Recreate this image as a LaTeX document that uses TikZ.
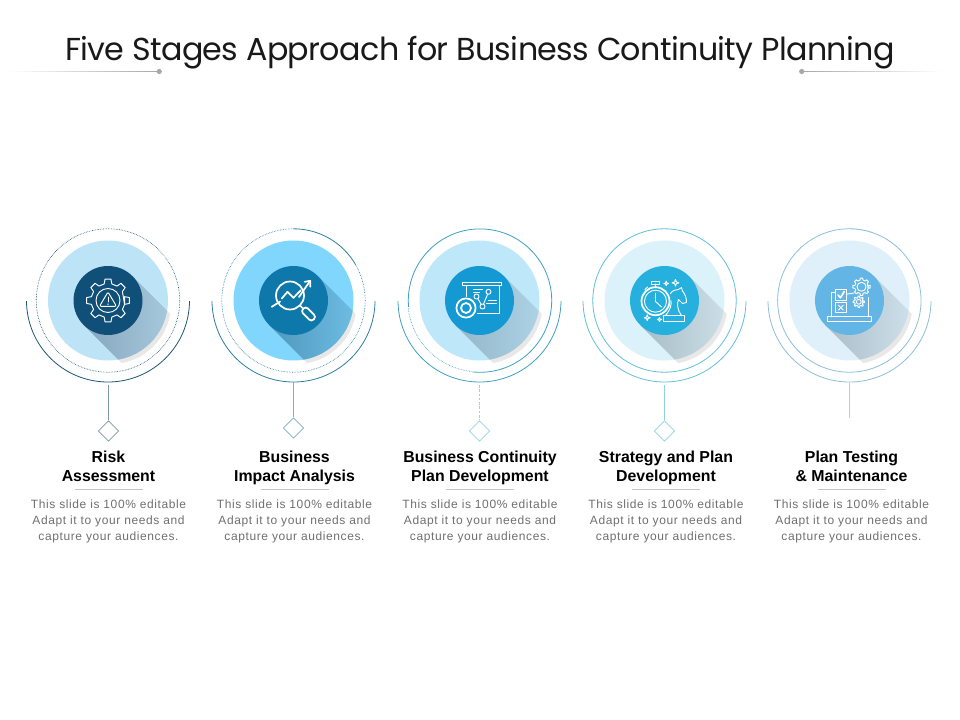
\documentclass[tikz,border=0pt]{standalone}
\usepackage{fontspec}
\setmainfont{Liberation Sans}
\newfontfamily\titlef{Poppins}[LetterSpace=-2]
\newfontfamily\bodyf{Liberation Sans}[LetterSpace=5]
\usetikzlibrary{shapes.geometric}
\definecolor{c1disc}{HTML}{BDE3F7}\definecolor{c1in}{HTML}{0F4F78}\definecolor{c1a}{HTML}{86A6BD}\definecolor{c1b}{HTML}{A9CBDF}\definecolor{c1arc}{HTML}{1D5675}\definecolor{c1ln}{HTML}{7F98A6}
\definecolor{c2disc}{HTML}{80D6FC}\definecolor{c2in}{HTML}{0E78AA}\definecolor{c2a}{HTML}{4F96BC}\definecolor{c2b}{HTML}{70C0E6}\definecolor{c2arc}{HTML}{2A7FA3}\definecolor{c2ln}{HTML}{7FAEC6}
\definecolor{c3disc}{HTML}{BFE7FA}\definecolor{c3in}{HTML}{1499D3}\definecolor{c3a}{HTML}{94B6C8}\definecolor{c3b}{HTML}{AFD5E8}\definecolor{c3arc}{HTML}{3EA0C4}\definecolor{c3ln}{HTML}{9AD3E0}
\definecolor{c4disc}{HTML}{DCF2FA}\definecolor{c4in}{HTML}{25B0DE}\definecolor{c4a}{HTML}{A8BCC6}\definecolor{c4b}{HTML}{CFE2EA}\definecolor{c4arc}{HTML}{62C0D8}\definecolor{c4ln}{HTML}{8FD2DF}
\definecolor{c5disc}{HTML}{DFF0FA}\definecolor{c5in}{HTML}{62B5E5}\definecolor{c5a}{HTML}{ABBDC8}\definecolor{c5b}{HTML}{D0E2EC}\definecolor{c5arc}{HTML}{8CC0DA}\definecolor{c5ln}{HTML}{A9D3E6}
\definecolor{crescent}{HTML}{EAE7E7}
\definecolor{tickgray}{HTML}{8A8A8A}
\definecolor{decogray}{HTML}{A8A8A8}
\definecolor{bodygray}{HTML}{707070}
\definecolor{rulegray}{HTML}{C4C4C4}
\tikzset{
  x=0.75pt,y=0.75pt,
  icon/.style={draw=white,line width=0.7pt,line join=round,line cap=round},
  iconb/.style={draw=white,line width=1.3pt,line join=round,line cap=round},
  dotring/.style={line width=0.5pt,dash pattern=on 0.45pt off 0.75pt},
  solidring/.style={line width=0.6pt},
  headtext/.style={font=\fontsize{11.9pt}{14.25pt}\selectfont\bfseries,align=center,text=black,inner sep=0pt},
  bodytext/.style={font=\bodyf\fontsize{9pt}{12pt}\selectfont,align=center,text=bodygray,inner sep=0pt},
  marker/.style={diamond,draw,fill=white,inner sep=0pt,minimum width=15.5pt,minimum height=15.5pt,line width=0.6pt},
}
\newcommand{\gearpath}[7]{% x y n ri ro halfbase halftip
  \draw[icon] (#1,#2) ++(-#6:#4) \foreach \ga [evaluate=\ga as \gb using {\ga*360/#3}] in {1,...,#3} {
    -- ([shift={(#1,#2)}]\gb-#6:#4) -- ([shift={(#1,#2)}]\gb-#7:#5) -- ([shift={(#1,#2)}]\gb+#7:#5) -- ([shift={(#1,#2)}]\gb+#6:#4)
  } -- cycle;
}
\newcommand{\spark}[3]{%
  \draw[icon] (#1,#2) ++(0,#3) -- ++(.25*#3,-.75*#3) -- ++(.75*#3,-.25*#3) -- ++(-.75*#3,-.25*#3) -- ++(-.25*#3,-.75*#3) -- ++(-.25*#3,.75*#3) -- ++(-.75*#3,.25*#3) -- ++(.75*#3,.25*#3) -- cycle;
}
\newcommand{\iconone}{%
  \gearpath{0}{0}{8}{17}{21.5}{13}{8}
  \draw[icon] (0,0) circle (12);
  \draw[icon,rounded corners=1pt] (0,8.5) -- (8.5,-5.8) -- (-8.5,-5.8) -- cycle;
  \draw[icon] (0,3.5) -- (0,-1.5);
  \fill[white] (0,-3.6) circle (0.8);
}
\newcommand{\icontwo}{%
  \draw[iconb] (-3.5,5) circle (14);
  \draw[iconb] (6.4,-4.9) -- (10,-8.5);
  \draw[iconb] (-21.7,-6.3) -- (-13.4,-1);
  \draw[iconb,rounded corners=2.4pt,rotate around={-45:(15,-13.5)}] (7.5,-17) rectangle (22.5,-10);
  \draw[iconb] (-11.7,2) -- (-6,8.7) -- (0,2.7) -- (7.3,10.3);
  \draw[iconb] (5.5,3.5) -- (16.7,19.7);
  \draw[iconb] (11.2,18.7) -- (16.7,19.7) -- (16.7,13.7);
}
\newcommand{\iconthree}{%
  \draw[icon] (-17.5,15) rectangle (22,18);
  \draw[icon] (-13,15) -- (-13,4);
  \draw[icon] (19.5,15) -- (19.5,-12.5) -- (-2,-12.5);
  \draw[iconb] (-13.5,-7.5) circle (9.6);
  \draw[iconb] (-13.5,-7.5) circle (5);
  \draw[icon] (-3,4) circle (2.5);
  \draw[icon] (3,-6) circle (2.5);
  \draw[icon] (9,8.7) circle (2.5);
  \draw[icon] (-1.7,1.9) -- (1.7,-3.9);
  \draw[icon] (4,-3.7) -- (8.1,6.3);
  \draw[icon] (-6,11) -- (3,11);
  \draw[icon] (-6,8) -- (0,8);
  \draw[icon] (9,0) -- (17,0);
  \draw[icon] (7,-3) -- (17,-3);
}
\newcommand{\iconfour}{%
  \draw[iconb] (-9,-0.7) circle (14);
  \draw[icon] (-9,-0.7) circle (11);
  \draw[icon] (-13,16.5) rectangle (-5,19);
  \draw[icon] (-9,13.3) -- (-9,16.5);
  \draw[icon] (-19.5,11) -- (-17,13.5);
  \draw[icon] (-9,7.5) -- (-9,-1) -- (-3,-6.5);
  \draw[icon] (-1,-20.5) rectangle (20,-15);
  \draw[icon] (1,-15) .. controls (6,-9) and (7,-5) .. (6.5,0);
  \draw[icon] (6,7) .. controls (8,10) and (11,11) .. (14,11) -- (17,13) -- (18,9.5) .. controls (21,6) and (22,2) .. (22,-2) -- (18,-3) -- (14,1) .. controls (12,-3) and (13,-10) .. (17,-15);
  \spark{1.7}{17}{2.4}
  \spark{11}{17.7}{3.4}
  \spark{-17.3}{-17.3}{3}
  \spark{-5}{-19}{2.2}
}
\newcommand{\iconfive}{%
  \draw[icon] (-21.7,-21.3) rectangle (21.7,-16.3);
  \draw[icon] (-14,8.5) -- (-18,8.5) -- (-18,-16.3);
  \draw[icon] (18.7,3) -- (18.7,-16.3);
  \draw[icon] (-14,0.3) rectangle (-3.3,11);
  \draw[iconb] (-11.5,5.5) -- (-9,2.8) -- (-5.3,9);
  \draw[icon] (-14,-12.3) rectangle (-3.3,-2);
  \draw[icon] (-11,-4.8) -- (-6.3,-9.6) (-6.3,-4.8) -- (-11,-9.6);
  \draw[icon] (-3.3,6.3) -- (4.5,7.5);
  \gearpath{12}{13.7}{8}{6.8}{8.7}{13}{8}
  \draw[icon] (12,13.7) circle (4.5);
  \gearpath{9.3}{-1.3}{8}{4.2}{5.7}{13}{8}
  \draw[icon] (9.3,-1.3) circle (2.4);
}
% n, centre x, ring code, icon code
\newcommand{\stage}[4]{%
  \begin{scope}[shift={(#2,-300.5)}]
    \begin{scope}
      \clip (3,-3.5) circle (60);
      \fill[crescent,rotate=-45] (0,-34.5) rectangle (80,34.5);
    \end{scope}
    \fill[c#1disc] (0,0) circle (60);
    \begin{scope}
      \clip (0,0) circle (60);
      \shade[rotate=-45,left color=c#1a,right color=c#1b] (0,-34.5) rectangle (62,34.5);
    \end{scope}
    \node[circle,fill=c#1in,minimum size=51.75pt,inner sep=0pt] (core#1) at (0,0) {};
    #3
    \draw[c#1arc,line width=0.6pt] (-81.5,0) arc (180:360:81.5);
    \shade[left color=white,middle color=tickgray,right color=white] (-88,-0.5) rectangle (-75,0.5);
    \shade[left color=white,middle color=tickgray,right color=white] (75,-0.5) rectangle (88,0.5);
    #4
  \end{scope}
}
\newcommand{\stagetext}[3]{%
  \node[headtext] (head#1) at (#2,-468) {\vphantom{Ay}#3\vphantom{Ay}};
  \draw[rulegray,line width=0.5pt] (#2-34,-489) -- (#2+34,-489);
  \node[bodytext] (body#1) at (#2,-521) {This slide is 100\% editable\\Adapt it to your needs and\\capture your audiences.};
}
\begin{document}
\begin{tikzpicture}
\useasboundingbox (0,0) rectangle (960,-720);
\fill[white] (0,0) rectangle (960,-720);
\node[font=\titlef\fontsize{23.8pt}{30pt}\selectfont,text=black!90,inner sep=0pt] (title) at (480,-53) {Five Stages Approach for Business Continuity Planning};
\shade[left color=white,right color=decogray] (8,-71.9) rectangle (158,-71.1);
\shade[left color=decogray,right color=white] (802,-71.9) rectangle (942,-71.1);
\fill[decogray] (159.3,-71.5) circle (2.6);
\fill[decogray] (801.7,-71.5) circle (2.6);

\stage{1}{108}{\draw[c1arc,dotring] (0,0) circle (71.7);}{\iconone}
\stage{2}{293.5}{%
  \draw[c2arc,dotring] (0,71.7) arc (90:390:71.7);
  \draw[c2arc,solidring] (0,71.7) arc (90:30:71.7);
}{\icontwo}
\stage{3}{479.5}{%
  \draw[c3arc,solidring] (-7,-71.4) arc (-96:185:71.7);
  \draw[c3arc,dotring] (-71.4,-6) arc (185:264:71.7);
}{\iconthree}
\stage{4}{664.5}{\draw[c4arc,solidring] (0,0) circle (71.7);}{\iconfour}
\stage{5}{849.5}{%
  \draw[c5arc,solidring] (22,68.2) arc (72:450:71.7);
  \draw[c5arc,dotring] (0,71.7) arc (90:72:71.7);
}{\iconfive}

\coordinate (top1) at (108.5,-385);
\node[marker,draw=c1ln] (mark1) at (108.5,-431) {};
\draw[c1ln,line width=0.6pt] (top1) -- (mark1.north);
\coordinate (top2) at (293.5,-382);
\node[marker,draw=c2ln] (mark2) at (293.5,-428) {};
\draw[c2ln,line width=0.6pt] (top2) -- (mark2.north);
\coordinate (top3) at (479.5,-385);
\node[marker,draw=c3ln] (mark3) at (479.5,-431) {};
\draw[c3ln,line width=0.6pt,dash pattern=on 2pt off 1.2pt] (top3) -- (mark3.north);
\coordinate (top4) at (664.5,-385);
\node[marker,draw=c4ln] (mark4) at (664.5,-431) {};
\draw[c4ln,line width=0.6pt] (top4) -- (mark4.north);
\coordinate (top5) at (849.5,-383);
\coordinate (end5) at (849.5,-418);
\draw[c5ln,line width=0.6pt] (top5) -- (end5);

\stagetext{1}{108.5}{Risk\\Assessment}
\stagetext{2}{294.5}{Business\\Impact Analysis}
\stagetext{3}{480}{Business Continuity\\Plan Development}
\stagetext{4}{666}{Strategy and Plan\\Development}
\stagetext{5}{851.5}{Plan Testing\\\& Maintenance}
\end{tikzpicture}
\end{document}
